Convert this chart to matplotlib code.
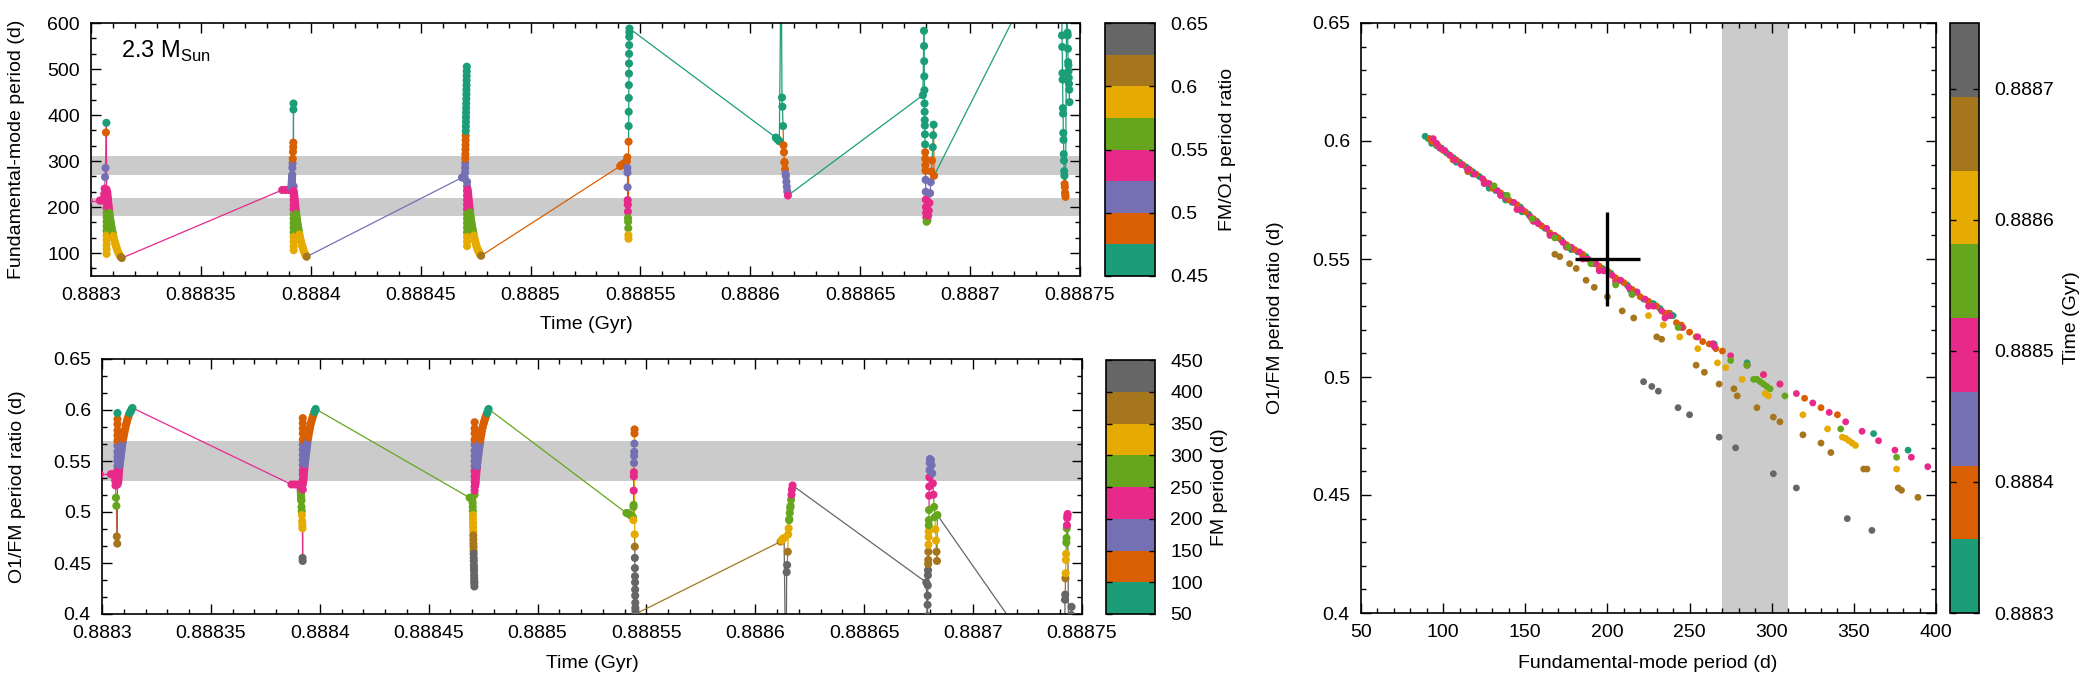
import numpy as np
import matplotlib
matplotlib.use("Agg")
import matplotlib.pyplot as plt
from matplotlib.collections import LineCollection
from matplotlib.colors import ListedColormap, BoundaryNorm
from matplotlib.cm import ScalarMappable
from matplotlib.ticker import FixedLocator, MultipleLocator, AutoMinorLocator, FuncFormatter

plt.rcParams["font.family"] = ["Liberation Sans", "DejaVu Sans"]
plt.rcParams["mathtext.fontset"] = "custom"
plt.rcParams["mathtext.rm"] = "Liberation Sans"

# time axis origin (Gyr); pulse times below are offsets in 1e-6 Gyr
T0 = 0.8883

# --- pulse 1 ---
p1_time = [-1.0, 4.0, 4.6, 5.1,
           6.0, 6.2, 6.4, 6.6, 6.8, 7.0,
           7.1, 7.1, 7.1, 7.1, 7.1, 7.1, 7.1, 7.1, 7.1, 7.1, 7.1, 7.1, 7.1, 7.1, 7.1,
           7.40, 7.50, 7.60, 7.70, 7.80, 7.90, 8.00, 8.13, 8.26, 8.39, 8.53, 8.66, 8.80, 8.97, 9.15, 9.32, 9.50,
           9.72, 9.95, 10.17, 10.40, 10.69, 10.98, 11.22, 11.45, 11.72, 12.00, 12.35, 12.65, 12.95, 13.30, 13.65, 14.00]
p1_fm = [214, 214, 214, 215,
         228, 240, 265, 285, 362, 383,
         238, 228, 218, 208, 198, 188, 178, 168, 158, 148, 138, 128, 118, 108, 98,
         232, 227, 222, 217, 212, 207, 202, 197, 192, 187, 182, 177, 172, 167, 162, 157, 152,
         147, 142, 137, 132, 127, 122, 118, 114, 110, 106, 102, 99, 96, 93, 91, 89]
p1_ratio = [0.537, 0.537, 0.537, 0.537,
            0.531, 0.526, 0.514, 0.506, 0.476, 0.469,
            0.527, 0.531, 0.536, 0.541, 0.545, 0.550, 0.554, 0.559, 0.565, 0.570, 0.575, 0.580, 0.586, 0.591, 0.597,
            0.529, 0.531, 0.533, 0.536, 0.539, 0.541, 0.544, 0.546, 0.548, 0.551, 0.553, 0.555, 0.558, 0.560, 0.563, 0.566, 0.569,
            0.572, 0.574, 0.577, 0.579, 0.582, 0.585, 0.587, 0.589, 0.591, 0.593, 0.595, 0.597, 0.598, 0.599, 0.601, 0.602]

# --- pulse 2 ---
p2_time = [87.0, 88.5, 90.0, 91.0,
           91.20, 91.25, 91.30, 91.35, 91.40, 91.45, 91.50, 91.55,
           91.6, 91.7, 91.8, 91.9, 92.0, 92.05, 92.1, 92.15,
           92.2, 92.2, 92.2, 92.2, 92.2, 92.2, 92.2, 92.2, 92.2, 92.2, 92.2, 92.2, 92.2, 92.2, 92.2,
           92.40, 92.50, 92.60, 92.70, 92.80, 92.90, 93.00, 93.12, 93.25, 93.38, 93.50, 93.64, 93.78, 93.94, 94.10, 94.28,
           94.46, 94.66, 94.86, 95.08, 95.30, 95.56, 95.82, 96.06, 96.30, 96.58, 96.88, 97.20, 97.50, 97.75, 97.95, 98.10]
p2_fm = [237, 237, 237, 238,
         242, 246, 250, 254, 258, 262, 266, 270,
         285, 295, 305, 320, 330, 340, 412, 425,
         245, 235, 225, 215, 205, 195, 185, 175, 165, 155, 145, 135, 125, 115, 106,
         230, 225, 220, 215, 210, 205, 200, 195, 190, 185, 180, 175, 170, 165, 160, 155,
         150, 145, 140, 135, 130, 125, 120, 116, 112, 108, 104, 100, 97, 95, 93, 92]
p2_ratio = [0.527, 0.527, 0.527, 0.526,
            0.523, 0.521, 0.519, 0.517, 0.515, 0.514, 0.512, 0.511,
            0.505, 0.501, 0.497, 0.491, 0.487, 0.484, 0.455, 0.452,
            0.522, 0.527, 0.532, 0.537, 0.541, 0.546, 0.551, 0.556, 0.561, 0.566, 0.571, 0.577, 0.582, 0.587, 0.592,
            0.530, 0.532, 0.534, 0.537, 0.540, 0.542, 0.545, 0.547, 0.549, 0.552, 0.554, 0.556, 0.559, 0.561, 0.564, 0.567,
            0.570, 0.573, 0.575, 0.578, 0.580, 0.583, 0.586, 0.588, 0.590, 0.592, 0.594, 0.596, 0.598, 0.599, 0.600, 0.601]

# --- pulse 3 ---
p3_time = [168.8, 169.4, 170.0,
           170.20, 170.24, 170.27, 170.31, 170.34, 170.38, 170.41, 170.45, 170.48, 170.52, 170.55, 170.59,
           170.62, 170.66, 170.69, 170.73, 170.76, 170.80, 170.83, 170.87, 170.90, 170.94, 170.97, 171.00,
           171.1, 171.1, 171.1, 171.1, 171.1, 171.1, 171.1, 171.1, 171.1, 171.1, 171.1, 171.1, 171.1, 171.1, 171.1,
           171.40, 171.50, 171.60, 171.70, 171.80, 171.90, 172.00, 172.12, 172.24, 172.36, 172.48, 172.62, 172.76,
           172.90, 173.06, 173.22, 173.40, 173.58, 173.78, 173.98, 174.20, 174.42, 174.66, 174.88, 175.14, 175.40,
           175.68, 175.98, 176.28, 176.60, 176.92, 177.20, 177.50]
p3_fm = [264, 264, 265,
         275, 285, 295, 305, 315, 325, 335, 345, 355, 365, 375, 385,
         395, 405, 415, 425, 435, 445, 455, 465, 475, 485, 495, 505,
         255, 245, 235, 225, 215, 205, 195, 185, 175, 165, 155, 145, 135, 125, 115,
         238, 233, 228, 223, 218, 213, 208, 203, 198, 193, 188, 183, 178,
         173, 168, 163, 158, 153, 148, 143, 138, 133, 128, 124, 119, 115,
         111, 107, 104, 101, 98, 96, 94]
p3_ratio = [0.514, 0.514, 0.513,
            0.509, 0.505, 0.501, 0.497, 0.493, 0.489, 0.485, 0.481, 0.477, 0.473, 0.469, 0.466,
            0.462, 0.459, 0.455, 0.452, 0.448, 0.445, 0.442, 0.438, 0.435, 0.432, 0.430, 0.427,
            0.517, 0.521, 0.525, 0.530, 0.535, 0.540, 0.545, 0.550, 0.555, 0.560, 0.566, 0.571, 0.577, 0.582, 0.588,
            0.526, 0.528, 0.530, 0.533, 0.536, 0.538, 0.541, 0.543, 0.545, 0.548, 0.550, 0.553, 0.555,
            0.557, 0.560, 0.563, 0.565, 0.568, 0.571, 0.574, 0.576, 0.579, 0.582, 0.584, 0.586, 0.588,
            0.590, 0.592, 0.594, 0.596, 0.597, 0.599, 0.601]

# --- pulse 4 ---
p4_time = [240.8, 241.4, 242.0, 242.6, 243.2, 243.8,
           244.0, 244.05, 244.1, 244.15, 244.2, 244.25, 244.3, 244.35, 244.4, 244.45, 244.5, 244.55,
           244.6, 244.63, 244.67, 244.7, 244.73, 244.77, 244.8, 244.83, 244.87, 244.9, 244.95, 245.0]
p4_fm = [289, 291, 293, 295, 297, 299,
         308, 285, 275, 243, 215, 205, 190, 176, 168, 154, 139, 131,
         342, 376, 407, 437, 465, 490, 512, 533, 552, 570, 580, 588]
p4_ratio = [0.499, 0.499, 0.498, 0.497, 0.496, 0.495,
            0.492, 0.505, 0.507, 0.521, 0.535, 0.539, 0.548, 0.555, 0.559, 0.567, 0.577, 0.581,
            0.478, 0.466, 0.455, 0.445, 0.437, 0.431, 0.424, 0.418, 0.411, 0.406, 0.403, 0.400]

# --- pulse 5 ---
p5_time = [311.6, 312.0, 312.4, 312.8, 313.2,
           313.8, 314.1,
           314.4, 314.6, 314.9, 315.1, 315.3, 315.5, 315.6, 315.8, 316.0, 316.2, 316.4, 316.6, 316.8, 317.1]
p5_fm = [351, 349, 347, 345, 343,
         650, 720,
         438, 418, 376, 334, 319, 298, 296, 282, 272, 267, 255, 244, 234, 225]
p5_ratio = [0.471, 0.472, 0.473, 0.474, 0.4745,
            0.37, 0.35,
            0.441, 0.448, 0.461, 0.478, 0.484, 0.492, 0.493, 0.499, 0.504, 0.506, 0.512, 0.517, 0.522, 0.526]

# --- pulse 6 ---
p6_time = [378.5,
           379.0, 379.05, 379.1, 379.15, 379.2, 379.25, 379.3, 379.35, 379.4, 379.45, 379.5,
           379.55, 379.6, 379.65, 379.7, 379.75, 379.8, 379.85, 379.9, 380.0, 380.1, 380.2,
           380.6, 380.9, 381.2, 381.5, 381.8, 382.1, 382.4, 382.7, 383.0, 383.2, 383.4, 383.6]
p6_fm = [443,
         583, 550, 517, 484, 454, 425, 407, 389, 377, 358, 336,
         319, 305, 291, 279, 259, 233, 216, 200, 187, 177, 168,
         171, 181, 192, 209, 230, 254, 277, 301, 330, 356, 379, 268]
p6_ratio = [0.431,
            0.388, 0.398, 0.409, 0.418, 0.428, 0.438, 0.443, 0.449, 0.453, 0.461, 0.468,
            0.4755, 0.481, 0.487, 0.492, 0.502, 0.516, 0.525, 0.534, 0.541, 0.548, 0.552,
            0.551, 0.546, 0.538, 0.528, 0.517, 0.505, 0.495, 0.483, 0.472, 0.461, 0.452, 0.497]

# --- pulse 7 ---
p7_time = [441.5,
           441.8, 441.9, 442.0, 442.1, 442.2, 442.3, 442.4, 442.5, 442.6, 442.7, 442.8, 442.9,
           443.0, 443.1, 443.2, 443.3, 443.4,
           444.0,
           444.3, 444.4, 444.5, 444.6, 444.7, 444.8, 444.9, 445.0, 445.1, 445.2]
p7_fm = [815,
         573, 548, 491, 477, 415, 403, 361, 346, 315, 301, 278, 268,
         250, 243, 231, 227, 222,
         700,
         579, 573, 544, 515, 508, 495, 481, 468, 455, 428]
p7_ratio = [0.32,
            0.354, 0.363, 0.381, 0.386, 0.414, 0.419, 0.435, 0.440, 0.453, 0.459, 0.470, 0.4745,
            0.484, 0.487, 0.494, 0.496, 0.498,
            0.33,
            0.352, 0.354, 0.364, 0.375, 0.378, 0.383, 0.389, 0.394, 0.399, 0.407]

# observational constraints
fm_bands = [(180, 220), (270, 310)]
ratio_band = (0.53, 0.57)
right_fm_band = (270, 310)
obs_fm, obs_fm_err = 200, 20
obs_ratio, obs_ratio_err = 0.55, 0.02

time_ticks = [0.8883, 0.88835, 0.8884, 0.88845, 0.8885, 0.88855, 0.8886, 0.88865, 0.8887, 0.88875]
ratio_cb_ticks = [0.45, 0.5, 0.55, 0.6, 0.65]
fm_cb_ticks = [50, 100, 150, 200, 250, 300, 350, 400, 450]
time_cb_ticks = [0.8883, 0.8884, 0.8885, 0.8886, 0.8887]

dark2 = ["#1b9e77", "#d95f02", "#7570b3", "#e7298a", "#66a61e", "#e6ab02", "#a6761d", "#666666"]
cmap = ListedColormap(dark2)


def join(*parts):
    return np.concatenate([np.asarray(p, dtype=float) for p in parts])


time = T0 + join(p1_time, p2_time, p3_time, p4_time, p5_time, p6_time, p7_time) * 1e-6
fm = join(p1_fm, p2_fm, p3_fm, p4_fm, p5_fm, p6_fm, p7_fm)
ratio = join(p1_ratio, p2_ratio, p3_ratio, p4_ratio, p5_ratio, p6_ratio, p7_ratio)

norm_ratio = BoundaryNorm(np.linspace(0.45, 0.65, 9), 8)
norm_fm = BoundaryNorm(np.linspace(50, 450, 9), 8)
norm_time = BoundaryNorm(np.linspace(0.8883, 0.88875, 9), 8)

FS = 14
fmt_g = FuncFormatter(lambda v, p: f"{v:g}")

W, H = 2100, 675
fig = plt.figure(figsize=(W / 100, H / 100), dpi=100)


def box(x0, y0, x1, y1):
    return [x0 / W, 1 - y1 / H, (x1 - x0) / W, (y1 - y0) / H]


ax_top = fig.add_axes(box(91, 23, 1080, 276))
cax_top = fig.add_axes(box(1105, 23, 1155, 276))
ax_bot = fig.add_axes(box(102, 359, 1082, 614))
cax_bot = fig.add_axes(box(1106, 360, 1155, 614))
ax_r = fig.add_axes(box(1361, 23, 1936, 613))
cax_r = fig.add_axes(box(1950, 23, 1979, 613))


def style(ax):
    for s in ax.spines.values():
        s.set_linewidth(1.2)
    ax.tick_params(which="both", direction="in", top=True, right=True, width=1.0)
    ax.tick_params(which="major", length=7, labelsize=FS, pad=8)
    ax.tick_params(which="minor", length=3.5)


def time_panel(ax, y, cval, norm, lo, hi):
    c = np.clip(cval, lo, hi)
    cols = cmap(norm(c))
    pts = np.column_stack([time, y])
    segs = np.stack([pts[:-1], pts[1:]], axis=1)
    ax.add_collection(LineCollection(segs, colors=cols[1:], linewidths=0.9, zorder=2))
    ax.scatter(time, y, c=cols, s=34, linewidths=0, zorder=3)
    ax.set_xlim(time_ticks[0], time_ticks[-1])
    ax.xaxis.set_major_locator(FixedLocator(time_ticks))
    ax.xaxis.set_minor_locator(MultipleLocator(1e-5))
    ax.xaxis.set_major_formatter(fmt_g)
    style(ax)


# top: FM period vs time
for lo, hi in fm_bands:
    ax_top.axhspan(lo, hi, color="#cbcbcb", lw=0, zorder=0)
time_panel(ax_top, fm, ratio, norm_ratio, 0.4501, 0.6499)
ax_top.set_ylim(50, 600)
ax_top.yaxis.set_major_locator(FixedLocator([100, 200, 300, 400, 500, 600]))
ax_top.yaxis.set_minor_locator(MultipleLocator(100 / 3))
ax_top.text(0.030, 0.862, "2.3 M$_{\\rm Sun}$", transform=ax_top.transAxes, fontsize=17, va="baseline")

# bottom: O1/FM ratio vs time
ax_bot.axhspan(*ratio_band, color="#cbcbcb", lw=0, zorder=0)
time_panel(ax_bot, ratio, fm, norm_fm, 50.1, 449.9)
ax_bot.set_ylim(0.4, 0.65)
ax_bot.yaxis.set_major_locator(MultipleLocator(0.05))
ax_bot.yaxis.set_minor_locator(AutoMinorLocator(3))
ax_bot.yaxis.set_major_formatter(fmt_g)

# right: ratio vs FM period, coloured by time
ax_r.axvspan(*right_fm_band, color="#cbcbcb", lw=0, zorder=0)
tc = np.clip(time, 0.888300001, 0.888749999)
ax_r.scatter(fm, ratio, c=cmap(norm_time(tc)), s=24, linewidths=0, zorder=3)
ax_r.errorbar(obs_fm, obs_ratio, xerr=obs_fm_err, yerr=obs_ratio_err, fmt="none",
              ecolor="black", elinewidth=2.4, capsize=0, zorder=4)
ax_r.set_xlim(50, 400)
ax_r.set_ylim(0.4, 0.65)
ax_r.xaxis.set_major_locator(MultipleLocator(50))
ax_r.xaxis.set_minor_locator(MultipleLocator(10))
ax_r.yaxis.set_major_locator(MultipleLocator(0.05))
ax_r.yaxis.set_minor_locator(MultipleLocator(0.01))
ax_r.yaxis.set_major_formatter(fmt_g)
style(ax_r)


def colorbar(cax, norm, ticks):
    cb = fig.colorbar(ScalarMappable(norm=norm, cmap=cmap), cax=cax, ticks=ticks)
    cb.outline.set_linewidth(1.2)
    cb.minorticks_off()
    cax.tick_params(direction="in", length=4, width=1, labelsize=FS, pad=11, left=True, right=True)
    cax.yaxis.set_major_formatter(fmt_g)
    return cb


colorbar(cax_top, norm_ratio, ratio_cb_ticks)
colorbar(cax_bot, norm_fm, fm_cb_ticks)
colorbar(cax_r, norm_time, time_cb_ticks)

# axis titles placed by their centres (pixels)
labels = [
    ("Fundamental-mode period (d)", 17, 149, 90),
    ("Time (Gyr)", 586, 325, 0),
    ("O1/FM period ratio (d)", 18, 487, 90),
    ("Time (Gyr)", 592, 663, 0),
    ("FM/O1 period ratio", 1227, 149, 90),
    ("FM period (d)", 1220, 487, 90),
    ("O1/FM period ratio (d)", 1276, 318, 90),
    ("Fundamental-mode period (d)", 1648, 664, 0),
    ("Time (Gyr)", 2071, 318, 90),
]
for txt, x, y, rot in labels:
    fig.text(x / W, 1 - y / H, txt, rotation=rot, ha="center", va="center", fontsize=FS)

fig.savefig("out.png", dpi=100)
